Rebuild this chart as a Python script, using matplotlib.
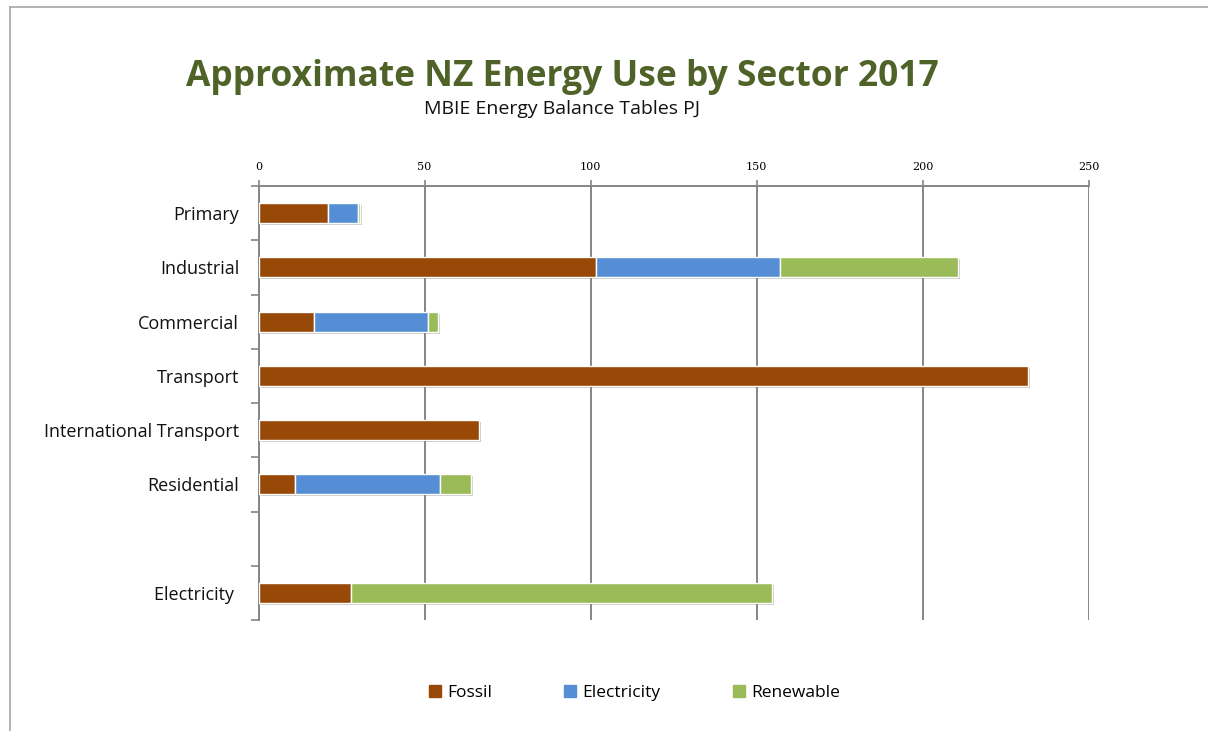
import matplotlib
matplotlib.use("Agg")
import matplotlib.pyplot as plt
import matplotlib.patheffects as pe
from matplotlib.lines import Line2D
import numpy as np

plt.rcParams['font.family'] = ['Open Sans', 'DejaVu Sans']

categories = ["Primary", "Industrial", "Commercial", "Transport",
              "International Transport", "Residential", "", "Electricity "]
fossil = [21.0, 101.6, 16.7, 231.6, 66.4, 11.0, 0.0, 27.8]
electricity = [9.0, 55.4, 34.3, 0.0, 0.0, 43.6, 0.0, 0.0]
renewable = [0.5, 53.6, 3.0, 0.0, 0.0, 9.4, 0.0, 126.8]
series_names = ["Fossil", "Electricity", "Renewable"]
colors = ["#984807", "#558ED5", "#9BBB59"]
x_ticks = [0, 50, 100, 150, 200, 250]

fig = plt.figure(figsize=(12.08, 7.31), dpi=100)
ax = fig.add_axes([258.5/1208, 1-620/731, (1089-258.5)/1208, (620-186)/731])

y = np.arange(len(categories))
shadow = [pe.SimplePatchShadow(offset=(1.5, -1.5), alpha=0.25), pe.Normal()]
left = np.zeros(len(categories))
for vals, col, name in zip([fossil, electricity, renewable], colors, series_names):
    v = np.array(vals)
    bars = ax.barh(y, v, left=left, height=0.37, color=col, edgecolor="white",
                   linewidth=1.0, label=name, zorder=3)
    for b, val in zip(bars, v):
        if val > 0:
            b.set_path_effects(shadow)
        else:
            b.set_visible(False)
    left = left + v

ax.set_xlim(0, 250)
ax.set_ylim(len(categories) - 0.5, -0.5)
ax.xaxis.tick_top()
ax.set_xticks(x_ticks)
ax.set_xticklabels([str(t) for t in x_ticks], fontsize=8, family='DejaVu Serif')
ax.tick_params(axis='x', length=4, color="#868686", width=1.2, pad=6)
ax.grid(axis='x', color="#868686", linewidth=1.4, zorder=0)
ax.set_axisbelow(True)

ax.set_yticks(y)
ax.set_yticklabels(categories, fontsize=13, color="#111111")
ax.tick_params(axis='y', length=0, pad=14)
ax.set_yticks(np.arange(-0.5, len(categories) + 0.5, 1), minor=True)
ax.tick_params(axis='y', which='minor', length=6, color="#868686", width=1.2, left=True)

for s in ["right", "bottom"]:
    ax.spines[s].set_visible(False)
ax.spines["left"].set_color("#868686")
ax.spines["left"].set_linewidth(1.4)
ax.spines["top"].set_color("#868686")
ax.spines["top"].set_linewidth(1.4)

fig.text(562/1208, 1-77/731, "Approximate NZ Energy Use by Sector 2017",
         ha="center", va="center", fontsize=25.5, fontweight="bold", color="#4F6228")
fig.text(562/1208, 1-109/731, "MBIE Energy Balance Tables PJ",
         ha="center", va="center", fontsize=14, color="#111111")

handles = [Line2D([0], [0], marker='s', linestyle='none', markersize=9,
                  markerfacecolor=c, markeredgecolor=c) for c in colors]
fig.legend(handles, series_names, loc="center", bbox_to_anchor=(634/1208, 1-693/731),
           ncol=3, frameon=False, fontsize=12.5, handletextpad=0.3,
           columnspacing=4.1, handlelength=0.8)

# outer frame
fig.add_artist(Line2D([10/1208, 10/1208], [0, 1-7/731], color="#A6A6A6", linewidth=1.2,
                      transform=fig.transFigure))
fig.add_artist(Line2D([10/1208, 1], [1-7/731, 1-7/731], color="#A6A6A6", linewidth=1.2,
                      transform=fig.transFigure))

fig.savefig("out.png", dpi=100)
